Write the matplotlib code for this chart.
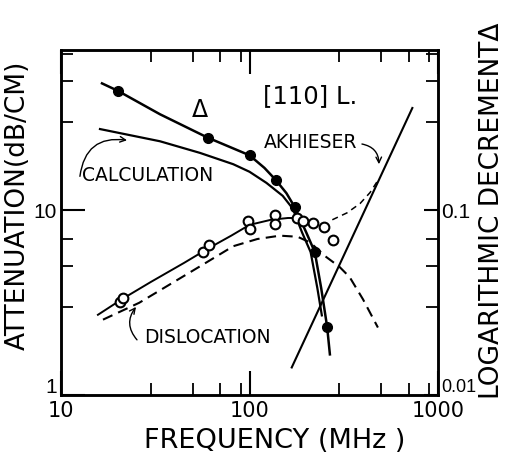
import matplotlib
matplotlib.use("Agg")
import matplotlib.pyplot as plt
from matplotlib.ticker import NullFormatter
from matplotlib.transforms import ScaledTranslation

# values (frequency in MHz, attenuation in dB/cm)
delta_f = [20, 60, 100, 138, 174, 222, 258]
delta_a = [44.5, 24.8, 19.9, 14.6, 10.4, 5.95, 2.35]

delta_curve_f = [16.5, 20, 33.5, 60, 100, 120, 138, 157, 174, 200, 222, 240, 258, 267]
delta_curve_a = [48.8, 44.5, 33.2, 24.8, 19.9, 17.0, 14.6, 12.4, 10.4, 7.6, 5.95, 3.8, 2.35, 1.66]

calc_f = [16.1, 33.5, 54.6, 82, 100, 123, 150, 170, 190, 211, 229, 242]
calc_a = [27.6, 23.7, 20.5, 17.8, 16.2, 14.1, 12.0, 10.2, 7.6, 5.95, 3.8, 2.7]

circ_f = [20.6, 21.3, 56.7, 61, 98, 100, 136, 136, 179, 192, 216, 248, 277]
circ_a = [3.2, 3.36, 5.95, 6.5, 8.8, 7.9, 9.5, 8.4, 9.1, 8.75, 8.6, 8.1, 6.9]

disl_f = [15.7, 21, 30, 45, 60, 80, 100, 130, 160, 180]
disl_a = [2.72, 3.3, 4.1, 5.2, 6.2, 7.3, 8.35, 8.9, 9.1, 9.1]

disl_dash_f = [16.7, 26, 55, 82, 110, 145, 180, 210, 255, 300, 340, 400, 480]
disl_dash_a = [2.56, 3.16, 5.0, 6.4, 7.0, 7.3, 7.2, 6.7, 5.6, 4.95, 4.35, 3.3, 2.32]

akh_f = [167.5, 731]
akh_a = [1.41, 35.9]

sum_f = [275, 329, 386, 436, 481]
sum_a = [8.9, 9.7, 10.9, 12.5, 14.6]

fig = plt.figure(figsize=(5.08, 4.59), dpi=100)
ax = fig.add_axes([61 / 508, 1 - 395 / 459, (438 - 61) / 508, (395 - 50) / 459])
ax.set_xscale("log")
ax.set_yscale("log")
ax.set_xlim(10, 1000)
ax.set_ylim(1, 74)

# curves
ax.plot(delta_curve_f, delta_curve_a, color="k", lw=1.8)
ax.plot(calc_f, calc_a, color="k", lw=1.6)
ax.plot(disl_f, disl_a, color="k", lw=1.4)
ax.plot(disl_dash_f, disl_dash_a, color="k", lw=1.5, dashes=(5, 3))
ax.plot(akh_f, akh_a, color="k", lw=1.5)
ax.plot(sum_f, sum_a, color="k", lw=1.1, dashes=(4, 3))

# points
ax.plot(delta_f, delta_a, "o", color="k", ms=7, zorder=5)
ax.plot(circ_f, circ_a, "o", mfc="white", mec="k", mew=1.5, ms=7, zorder=5)

# labels on the plot
ax.text(54.6, 34.9, "Δ", fontsize=17, ha="center", va="center")
ax.text(209, 41.7, "[110] L.", fontsize=17.5, ha="center", va="center")
ax.text(28.9, 15.5, "CALCULATION", fontsize=13.5, ha="center", va="center")
ax.text(59.5, 2.04, "DISLOCATION", fontsize=13.5, ha="center", va="center")
ax.text(212, 23.4, "AKHIESER", fontsize=13.5, ha="center", va="center")

arrow = dict(arrowstyle="->", lw=1.0, color="k", shrinkA=0, shrinkB=0)
ax.annotate("", xy=(22.4, 24.0), xytext=(12.6, 15.3),
            arrowprops=dict(arrow, connectionstyle="arc3,rad=-0.5"))
ax.annotate("", xy=(25.0, 3.0), xytext=(25.3, 1.99),
            arrowprops=dict(arrow, connectionstyle="arc3,rad=-0.4"))
ax.annotate("", xy=(486, 17.8), xytext=(395, 22.9),
            arrowprops=dict(arrow, connectionstyle="arc3,rad=-0.4"))

# ticks
ax.set_xticks([10, 100, 1000], ["10", "100", "1000"])
ax.set_xticks([30, 50, 70, 90, 300, 500, 700, 900], minor=True)
ax.set_yticks([1, 10], ["1", "10"])
ax.set_yticks([3, 5, 7, 30, 50, 70], minor=True)
ax.xaxis.set_minor_formatter(NullFormatter())
ax.yaxis.set_minor_formatter(NullFormatter())
ax.tick_params(which="major", direction="in", length=17, width=1.5,
               top=True, right=False, labelsize=15, pad=4)
ax.tick_params(axis="y", which="major", pad=3)
ax.tick_params(which="minor", direction="in", length=8.5, width=1.3,
               top=True, right=False)

ax2 = ax.twinx()
ax2.set_yscale("log")
ax2.set_ylim(0.01, 0.74)
ax2.set_yticks([0.01, 0.1], ["0.01", "0.1"])
ax2.set_yticks([0.03, 0.05, 0.07, 0.3, 0.5, 0.7], minor=True)
ax2.yaxis.set_minor_formatter(NullFormatter())
ax2.tick_params(which="major", direction="in", length=10, width=1.5,
                labelsize=15, pad=2)
ax2.tick_params(which="minor", direction="in", length=8.5, width=1.3)

for lbl in ax.get_yticklabels() + ax2.get_yticklabels():
    lbl.set_fontfamily("Liberation Sans")

# the bottom labels of both y axes sit a little higher, as in the original
lift = ScaledTranslation(0, 6.5 / 72, fig.dpi_scale_trans)
low_left = ax.yaxis.get_major_ticks()[0].label1
low_right = ax2.yaxis.get_major_ticks()[0].label2
low_right.set_fontsize(13)
for lbl in (low_left, low_right):
    lbl.set_transform(lbl.get_transform() + lift)

for a in (ax, ax2):
    for s in a.spines.values():
        s.set_linewidth(1.8)

fig.text(18 / 508, 1 - 205 / 459, "ATTENUATION(dB/CM)", rotation=90,
         fontsize=19, ha="center", va="center")
fig.text(492 / 508, 1 - 211 / 459, "LOGARITHMIC DECREMENTΔ", rotation=90,
         fontsize=19, ha="center", va="center")
fig.text(275 / 508, 1 - 441 / 459, "FREQUENCY (MHz )",
         fontsize=19.5, ha="center", va="center")

fig.savefig("out.png", dpi=100)
